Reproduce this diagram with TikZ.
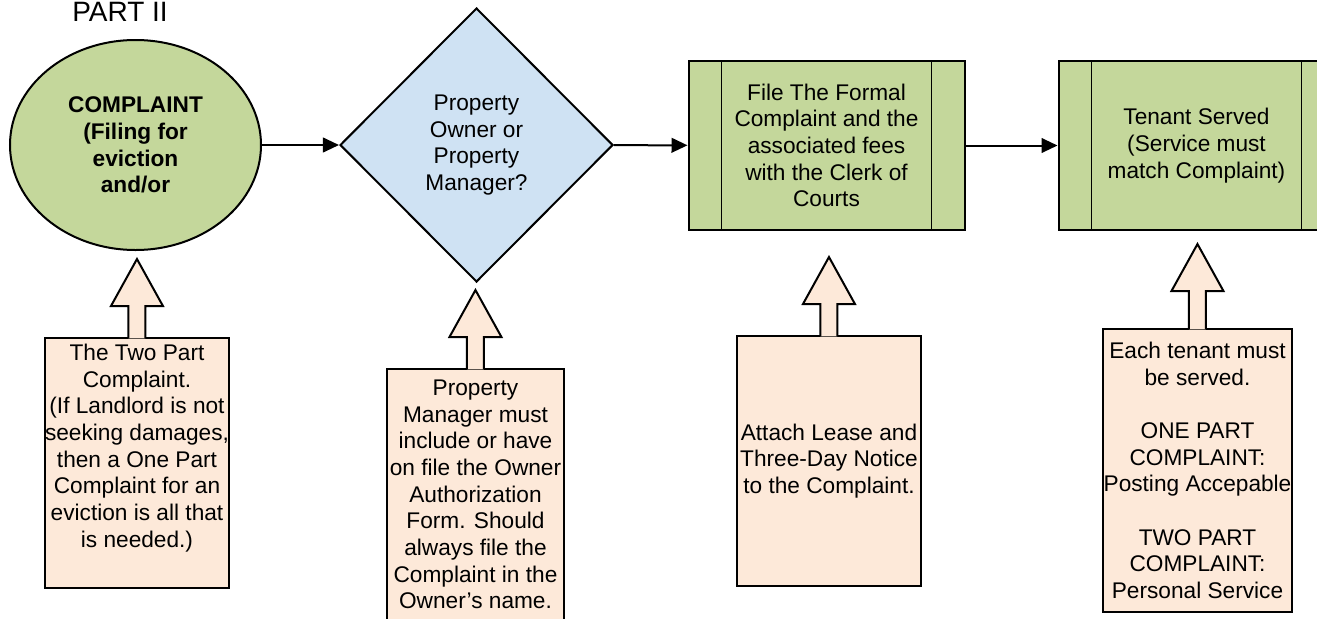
\documentclass[tikz,border=0pt]{standalone}
\usepackage{fontspec}
\setmainfont{Liberation Sans}
\usepackage{xcolor}
\definecolor{stepgreen}{HTML}{C4D79B}
\definecolor{askblue}{HTML}{CFE2F3}
\definecolor{notepeach}{HTML}{FDE9D9}
\usetikzlibrary{shapes.geometric}
\usetikzlibrary{arrows.meta}
\usetikzlibrary{positioning}

% block arrow from the top of a note box: #1 note, #2 shaft length
\newcommand{\upblock}[2]{%
  \filldraw[fill=notepeach, line width=1.5pt, line join=miter]
    ([xshift=-6.4pt, yshift=-1pt]#1.north) -- ++(0,-#2-1.3) -- ++(-17.5,0)
    -- ++(26,-47) -- ++(26,47) -- ++(-17.5,0) -- ++(0,#2+1.3);
}
% side bars of a predefined process box
\newcommand{\sidebars}[1]{%
  \draw[line width=1pt] ([xshift=25.5pt]#1.north west) -- ([xshift=25.5pt]#1.south west);
  \draw[line width=1pt] ([xshift=-25.5pt]#1.north east) -- ([xshift=-25.5pt]#1.south east);
}

\begin{document}
\begin{tikzpicture}[x=0.75pt, y=-0.75pt,
    txt/.style={font=\fontsize{17}{20}\selectfont, align=center},
    startoval/.style={ellipse, draw, line width=1.5pt, fill=stepgreen, inner sep=0pt,
      minimum width=188.25pt, minimum height=157.5pt, align=center,
      font=\fontsize{17}{20}\selectfont\bfseries},
    askdiamond/.style={txt, diamond, draw, line width=1.5pt, fill=askblue, inner sep=0pt,
      minimum width=204.75pt, minimum height=205.5pt},
    procbox/.style={txt, rectangle, draw, line width=1.5pt, fill=stepgreen, inner sep=0pt,
      minimum width=207pt, minimum height=126.75pt},
    notebox/.style={txt, rectangle, draw, line width=1.5pt, fill=notepeach, inner sep=0pt},
    flow/.style={-{Triangle[length=12pt,width=11pt]}, line width=1.5pt}]

  \useasboundingbox (0,0) rectangle (1317,618);

  \node[font=\fontsize{21}{25}\selectfont, anchor=base west, inner sep=0pt] (title) at (72,21) {PART II};

  % main row
  \node[startoval] (complaint) at (135.5,145) {COMPLAINT\\(Filing for\\eviction\\and/or};
  \node[askdiamond] (owner) at (476.5,145) {Property\\Owner or\\Property\\Manager?};
  \node[procbox] (file) at (826.5,145.5) {File The Formal\\Complaint and the\\associated fees\\with the Clerk of\\Courts};
  \node[procbox] (serve) at (1196.5,145.5) {Tenant Served\\(Service must\\match Complaint)};
  \sidebars{file}
  \sidebars{serve}

  \draw[flow] (complaint) -- (owner);
  \draw[flow] (owner) -- (file);
  \draw[flow] (file) -- (serve);

  % notes
  \node[notebox, minimum width=138pt, minimum height=187.5pt] (twopart) at (137,463)
    {The Two Part\\Complaint.\\(If Landlord is not\\seeking damages,\\then a One Part\\Complaint for an\\eviction is all that\\is needed.)\\\strut};
  \node[notebox, minimum width=132.75pt, minimum height=188.25pt] (ownerform) at (475.5,494.5)
    {Property\\Manager must\\include or have\\on file the Owner\\Authorization\\Form. Should\\always file the\\Complaint in the\\Owner's name.};
  \node[notebox, minimum width=138pt, minimum height=187.5pt] (attach) at (829,461)
    {Attach Lease and\\Three-Day Notice\\to the Complaint.};
  \node[notebox, minimum width=141.75pt, minimum height=212.25pt] (served) at (1197.5,470.5)
    {Each tenant must\\be served.\\[20pt]ONE PART\\COMPLAINT:\\Posting Accepable\\[20pt]TWO PART\\COMPLAINT:\\Personal Service};

  \upblock{twopart}{31}
  \upblock{ownerform}{31}
  \upblock{attach}{31}
  \upblock{served}{37}

\end{tikzpicture}
\end{document}
